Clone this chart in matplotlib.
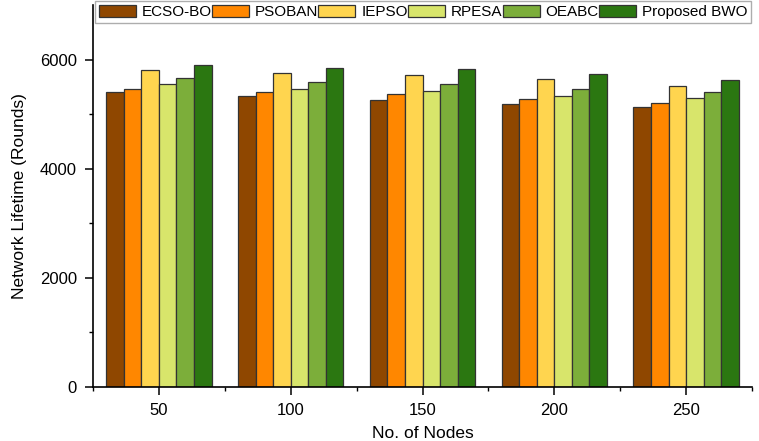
import numpy as np
import matplotlib
matplotlib.use("Agg")
import matplotlib.pyplot as plt
from matplotlib.ticker import FixedLocator

plt.rcParams['font.family'] = ['Liberation Sans', 'DejaVu Sans']

nodes = ["50", "100", "150", "200", "250"]
methods = ["ECSO-BO", "PSOBAN", "IEPSO", "RPESA", "OEABC", "Proposed BWO"]
ecso_bo = [5400, 5327, 5253, 5193, 5132]
psoban = [5468, 5407, 5363, 5278, 5205]
iepso = [5804, 5761, 5725, 5639, 5511]
rpesa = [5547, 5455, 5419, 5340, 5297]
oeabc = [5670, 5590, 5560, 5468, 5407]
proposed_bwo = [5896, 5847, 5822, 5731, 5633]
series = [ecso_bo, psoban, iepso, rpesa, oeabc, proposed_bwo]
colors = ["#8F4700", "#FF8700", "#FFD54F", "#D8E56B", "#7CAE3A", "#2B7711"]

fig = plt.figure(figsize=(7.59, 4.41), dpi=100)
ax = fig.add_axes([93/759, 54/441, (752-93)/759, (387-5)/441])

x = np.arange(1, len(nodes) + 1)
w = 0.8 / len(methods)
for i, (vals, c, name) in enumerate(zip(series, colors, methods)):
    ax.bar(x - 0.4 + w * (i + 0.5), vals, width=w, color=c,
           edgecolor="#333333", linewidth=0.9, label=name)

ax.set_xlim(0.5, 5.5)
ax.set_ylim(0, 7000)
ax.set_xticks(x)
ax.set_xticklabels(nodes)
ax.xaxis.set_minor_locator(FixedLocator(np.arange(0.5, 5.6, 1.0)))
ax.set_yticks([0, 2000, 4000, 6000])
ax.yaxis.set_minor_locator(FixedLocator([1000, 3000, 5000]))
ax.tick_params(which='major', direction='out', length=5.5, width=1.1,
               labelsize=12, pad=6)
ax.tick_params(which='minor', direction='out', length=3, width=1.0)

for s in ["top", "right"]:
    ax.spines[s].set_visible(False)
for s in ["left", "bottom"]:
    ax.spines[s].set_linewidth(1.2)
    ax.spines[s].set_color("black")

ax.set_xlabel("No. of Nodes", fontsize=12.5, labelpad=6)
ax.set_ylabel("Network Lifetime (Rounds)", fontsize=12.5, labelpad=9)

leg = fig.legend(loc="upper left", bbox_to_anchor=(95/759, 0.997),
                 ncol=6, fontsize=11, frameon=True, fancybox=False,
                 edgecolor="#999999", handlelength=2.42, handleheight=0.8,
                 handletextpad=0.4, columnspacing=0.0, borderpad=0.25,
                 borderaxespad=0.0)
leg.get_frame().set_linewidth(1.0)

fig.savefig("out.png", dpi=100)
